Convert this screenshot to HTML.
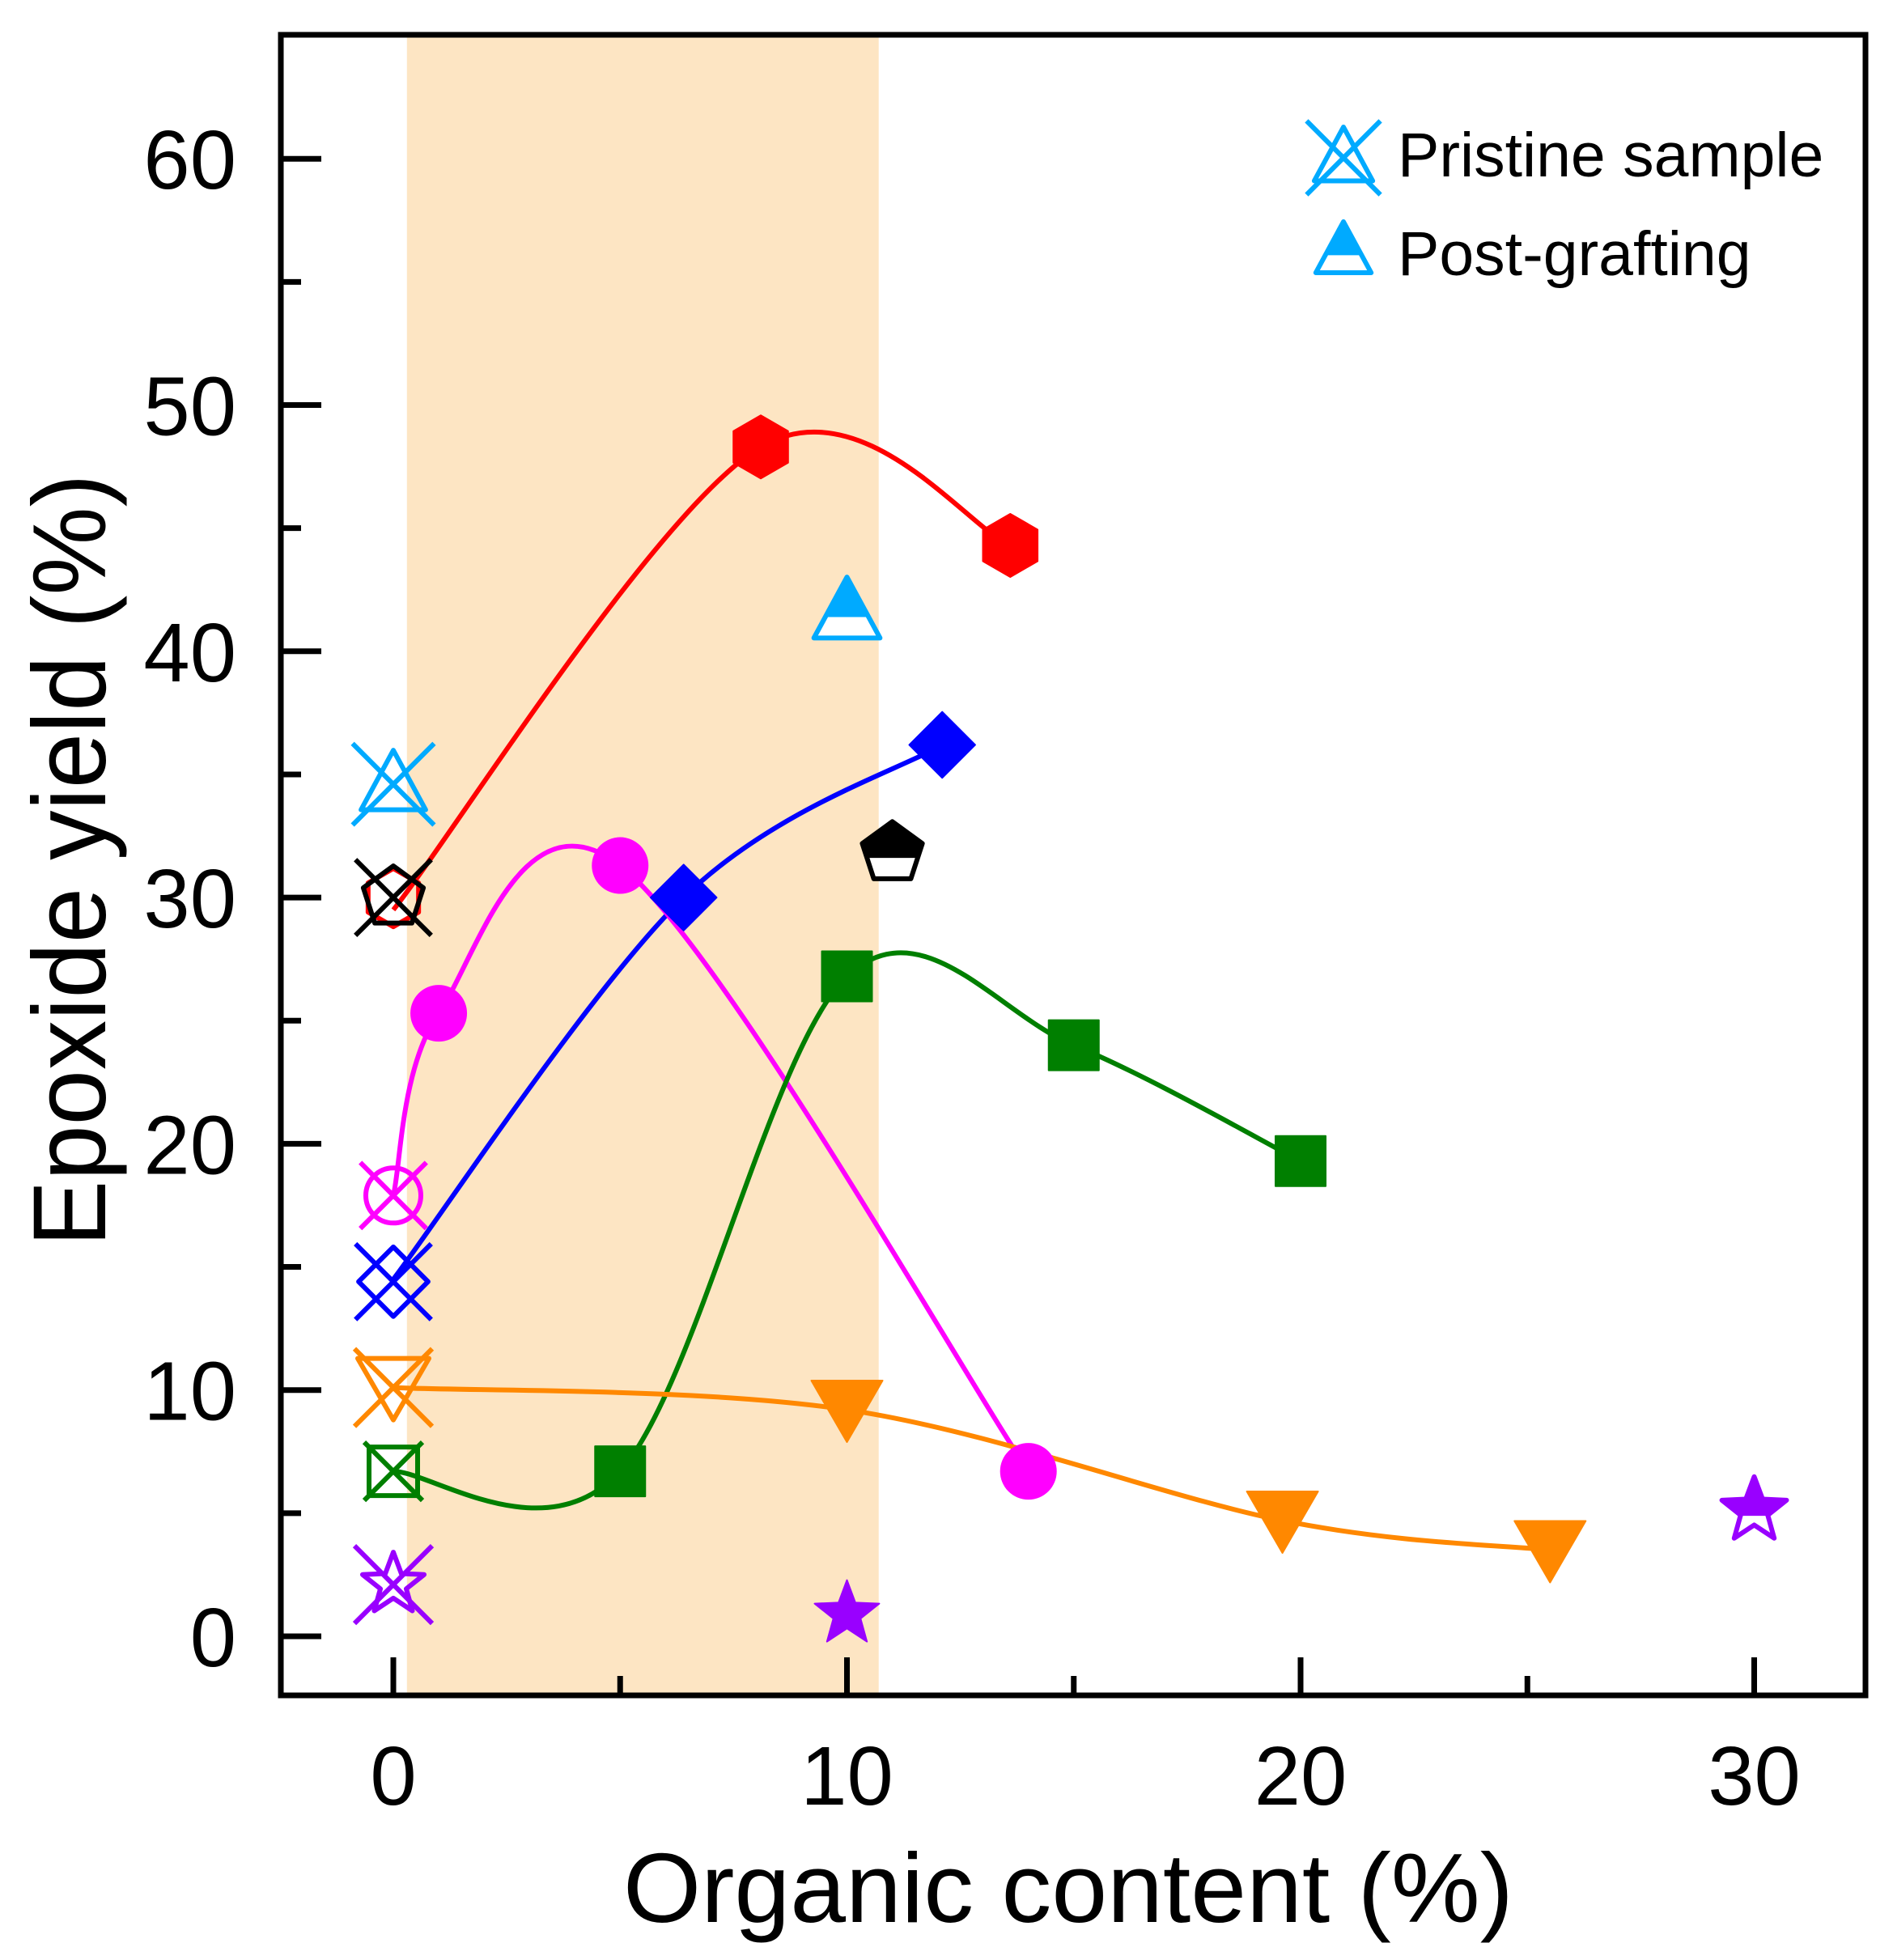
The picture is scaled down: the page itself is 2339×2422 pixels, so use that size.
<!DOCTYPE html>
<html><head><meta charset="utf-8"><style>
html,body{margin:0;padding:0;background:#fff;}
svg{display:block;font-family:"Liberation Sans",Arial,sans-serif;}
</style></head><body>
<svg id="chart" width="2339" height="2422" viewBox="0 0 2339 2422" xmlns="http://www.w3.org/2000/svg">
<g id="band"></g>
<g id="axes"></g>
<g id="curves"></g>
<g id="marks"></g>
<g id="legend">
  <text x="1727" y="218" font-size="77" fill="#000">Pristine sample</text>
  <text x="1727" y="340" font-size="77" fill="#000">Post-grafting</text>
</g>
<text x="1320" y="2375" font-size="122" text-anchor="middle" textLength="1100" lengthAdjust="spacingAndGlyphs">Organic content (%)</text>
<text transform="translate(130,1063) rotate(-90)" x="0" y="0" font-size="128" text-anchor="middle" textLength="955" lengthAdjust="spacingAndGlyphs">Epoxide yield (%)</text>
</svg>
<script>
// ---- data ----
const xTicks = [0, 10, 20, 30];
const xMinorTicks = [5, 15, 25];
const yTicks = [0, 10, 20, 30, 40, 50, 60];
const yMinorTicks = [5, 15, 25, 35, 45, 55];
const bandRange = [0.3, 10.7];

const redX = [0, 8.1, 13.6];
const redY = [29.5, 48.3, 44.3];
const magentaX = [0, 1, 5, 14];
const magentaY = [17.9, 25.3, 31.3, 6.7];
const blueX = [0, 6.4, 12.1];
const blueY = [14.5, 30.0, 36.2];
const greenX = [0, 5, 10, 15, 20];
const greenY = [6.7, 6.7, 26.8, 24.0, 19.3];
const orangeX = [0, 10, 19.6, 25.5];
const orangeY = [10.1, 9.2, 4.7, 3.5];

const pristineY = {cyan: 34.6, black: 30.0, red: 30.0, magenta: 17.9, blue: 14.4, orange: 10.1, green: 6.7, purple: 2.1};
const postCyan = [10, 41.6];
const postBlack = [11, 31.8];
const postPurple = [30, 5.1];
const filledPurple = [10, 0.9];

// ---- scales ----
const X0 = 486, XU = 56.05, Y0 = 2022, YU = 30.43;
const L = 347, R = 2305, T = 43, B = 2095;
const X = v => X0 + v * XU;
const Y = v => Y0 - v * YU;
const NS = "http://www.w3.org/2000/svg";
function mk(parent, tag, attrs) {
  const e = document.createElementNS(NS, tag);
  for (const k in attrs) e.setAttribute(k, attrs[k]);
  parent.appendChild(e);
  return e;
}
const gBand = document.getElementById('band');
const gAxes = document.getElementById('axes');
const gCurves = document.getElementById('curves');
const gMarks = document.getElementById('marks');
const gLegend = document.getElementById('legend');

const band = mk(gBand, 'rect', {x: X(bandRange[0]), y: T, width: X(bandRange[1]) - X(bandRange[0]), height: B - T, fill: '#fde5c3'});



xTicks.forEach(v => {
  const t = mk(gAxes, 'line', {x1: X(v), x2: X(v), y1: B, y2: B - 47, stroke: '#000', 'stroke-width': 7});
  
  
  const lb = mk(gAxes, 'text', {x: X(v), y: 2230, 'font-size': 103, 'text-anchor': 'middle'});
  lb.textContent = v;
  
  
});
xMinorTicks.forEach(v => {
  const t = mk(gAxes, 'line', {x1: X(v), x2: X(v), y1: B, y2: B - 24, stroke: '#000', 'stroke-width': 7});
  
  
});
yTicks.forEach(v => {
  const t = mk(gAxes, 'line', {x1: L, x2: L + 50, y1: Y(v), y2: Y(v), stroke: '#000', 'stroke-width': 7});
  
  
  const lb = mk(gAxes, 'text', {x: 292, y: Y(v) + 37, 'font-size': 103, 'text-anchor': 'end'});
  lb.textContent = v;
  
  
});
yMinorTicks.forEach(v => {
  const t = mk(gAxes, 'line', {x1: L, x2: L + 25, y1: Y(v), y2: Y(v), stroke: '#000', 'stroke-width': 7});
  
  
});
const frame = mk(gAxes, 'rect', {x: L, y: T, width: R - L, height: B - T, fill: 'none', stroke: '#000', 'stroke-width': 7});



function curvePath(xs, ys) {
  const p = xs.map((x, i) => [X(x), Y(ys[i])]);
  let d = 'M' + p[0][0] + ',' + p[0][1];
  for (let i = 0; i < p.length - 1; i++) {
    const p0 = p[Math.max(0, i - 1)], p1 = p[i], p2 = p[i + 1], p3 = p[Math.min(p.length - 1, i + 2)];
    const c1 = [p1[0] + (p2[0] - p0[0]) / 6, p1[1] + (p2[1] - p0[1]) / 6];
    const c2 = [p2[0] - (p3[0] - p1[0]) / 6, p2[1] - (p3[1] - p1[1]) / 6];
    d += ' C' + c1.join(',') + ' ' + c2.join(',') + ' ' + p2.join(',');
  }
  return d;
}
function drawCurve(xs, ys, color, name) {
  const c = mk(gCurves, 'path', {d: curvePath(xs, ys), fill: 'none', stroke: color, 'stroke-width': 6});
  
  
}
drawCurve(redX, redY, '#ff0000', 'red-series-curve');
drawCurve(blueX, blueY, '#0000ff', 'blue-series-curve');
drawCurve(magentaX, magentaY, '#ff00ff', 'magenta-series-curve');
drawCurve(greenX, greenY, '#007f00', 'green-series-curve');
drawCurve(orangeX, orangeY, '#ff8800', 'orange-series-curve');

function poly(n, s, rot) {
  const pts = [];
  for (let i = 0; i < n; i++) {
    const a = rot + i * 2 * Math.PI / n;
    pts.push([s * Math.sin(a), -s * Math.cos(a)]);
  }
  return pts;
}
function star(s) {
  const pts = [];
  for (let i = 0; i < 10; i++) {
    const r = i % 2 ? s * 0.42 : s;
    const a = i * Math.PI / 5;
    pts.push([r * Math.sin(a), -r * Math.cos(a)]);
  }
  return pts;
}
const shapes = {
  hexagon: s => poly(6, s, 0),
  pentagon: s => poly(5, s, 0),
  triUp: s => [[0, -s], [s * 0.95, s * 0.75], [-s * 0.95, s * 0.75]],
  triDown: s => [[0, s], [s * 1.1, -s * 0.9], [-s * 1.1, -s * 0.9]],
  diamond: s => [[0, -s * 1.1], [s * 1.1, 0], [0, s * 1.1], [-s * 1.1, 0]],
  square: s => [[-s, -s], [s, -s], [s, s], [-s, s]],
  star: s => star(s)
};
function ptsStr(pts, cx, cy) { return pts.map(p => (cx + p[0]) + ',' + (cy + p[1])).join(' '); }

function marker(parent, shape, cx, cy, s, color, style) {
  const g = mk(parent, 'g', {});
  if (shape === 'circle') {
    if (style === 'filled') mk(g, 'circle', {cx: cx, cy: cy, r: s, fill: color});
    else mk(g, 'circle', {cx: cx, cy: cy, r: s, fill: 'none', stroke: color, 'stroke-width': 6});
  } else {
    const pts = shapes[shape](s);
    if (style === 'filled') {
      mk(g, 'polygon', {points: ptsStr(pts, cx, cy), fill: color, stroke: color, 'stroke-width': 2, 'stroke-linejoin': 'round'});
    } else if (style === 'half') {
      const id = 'clip' + Math.round(cx) + '_' + Math.round(cy);
      const cp = mk(g, 'clipPath', {id: id});
      mk(cp, 'rect', {x: cx - s * 2, y: cy - s * 2, width: s * 4, height: s * 2 + s * 0.15});
      mk(g, 'polygon', {points: ptsStr(pts, cx, cy), fill: '#fff', stroke: color, 'stroke-width': 6, 'stroke-linejoin': 'round'});
      mk(g, 'polygon', {points: ptsStr(pts, cx, cy), fill: color, 'clip-path': 'url(#' + id + ')'});
    } else {
      mk(g, 'polygon', {points: ptsStr(pts, cx, cy), fill: 'none', stroke: color, 'stroke-width': 6, 'stroke-linejoin': 'round'});
    }
  }
  if (style === 'open-x') {
    const k = s * 1.2;
    mk(g, 'line', {x1: cx - k, y1: cy - k, x2: cx + k, y2: cy + k, stroke: color, 'stroke-width': 6});
    mk(g, 'line', {x1: cx - k, y1: cy + k, x2: cx + k, y2: cy - k, stroke: color, 'stroke-width': 6});
  }
  return g;
}

let m;
m = marker(gMarks, 'hexagon', X(0), Y(pristineY.red), 36, '#ff0000', 'open');


m = marker(gMarks, 'triUp', X(0), Y(pristineY.cyan), 42, '#00aaff', 'open-x');


m = marker(gMarks, 'pentagon', X(0), Y(pristineY.black), 39, '#000000', 'open-x');


m = marker(gMarks, 'circle', X(0), Y(pristineY.magenta), 34, '#ff00ff', 'open-x');


m = marker(gMarks, 'diamond', X(0), Y(pristineY.blue), 39, '#0000ff', 'open-x');


m = marker(gMarks, 'triDown', X(0), Y(pristineY.orange), 40, '#ff8800', 'open-x');


m = marker(gMarks, 'square', X(0), Y(pristineY.green), 30, '#007f00', 'open-x');


m = marker(gMarks, 'star', X(0), Y(pristineY.purple), 40, '#9900ff', 'open-x');



function series(xs, ys, shape, s, color, name) {
  xs.forEach((x, i) => {
    if (i === 0) return;
    const g = marker(gMarks, shape, X(x), Y(ys[i]), s, color, 'filled');
    
    
  });
}
series(redX, redY, 'hexagon', 39, '#ff0000', 'red-point');
series(magentaX, magentaY, 'circle', 35, '#ff00ff', 'magenta-point');
series(blueX, blueY, 'diamond', 37, '#0000ff', 'blue-point');
series(greenX, greenY, 'square', 31, '#007f00', 'green-point');
series(orangeX, orangeY, 'triDown', 40, '#ff8800', 'orange-point');

m = marker(gMarks, 'star', X(filledPurple[0]), Y(filledPurple[1]), 42, '#9900ff', 'filled');



m = marker(gMarks, 'triUp', X(postCyan[0]), Y(postCyan[1]), 43, '#00aaff', 'half');


m = marker(gMarks, 'pentagon', X(postBlack[0]), Y(postBlack[1]), 39, '#000000', 'half');


m = marker(gMarks, 'star', X(postPurple[0]), Y(postPurple[1]), 42, '#9900ff', 'half');



m = marker(gLegend, 'triUp', 1660, 195, 38, '#00aaff', 'open-x');


m = marker(gLegend, 'triUp', 1660, 310, 36, '#00aaff', 'half');


</script>
</body></html>
